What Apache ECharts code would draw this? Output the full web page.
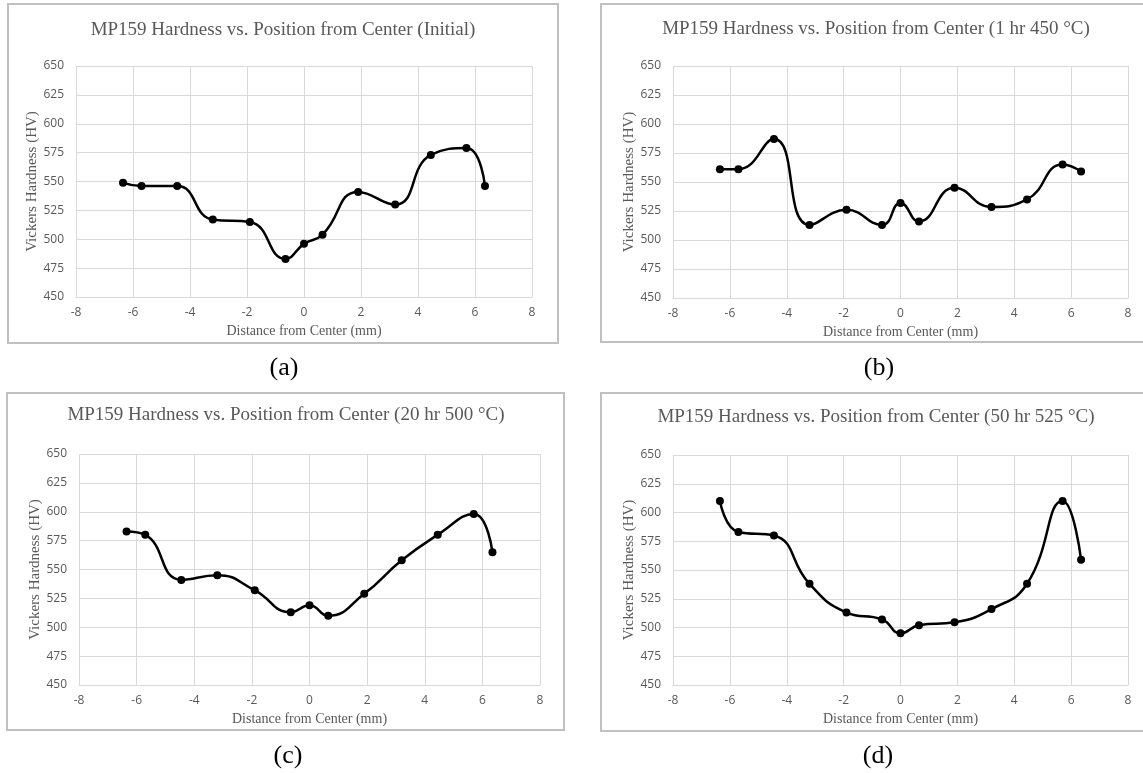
<!DOCTYPE html>
<html>
<head>
<meta charset="utf-8">
<script src="https://cdn.jsdelivr.net/npm/echarts@6/dist/echarts.min.js"></script>
<style>
html,body{margin:0;padding:0;background:#fff;}
#chart{width:1143px;height:773px;}
</style>
</head>
<body>
<div id="chart"></div>
<script>
// Positions from center (mm)
const positions = [-6.35, -5.7, -4.45, -3.2, -1.9, -0.65, 0, 0.65, 1.9, 3.2, 4.45, 5.7, 6.35];
// Vickers hardness (HV) per condition
const hvInitial = [549, 546, 546, 517, 515, 483, 496, 504, 541, 530, 573, 579, 546];
const hv1hr450 = [561, 561, 587, 513, 526, 513, 532, 516, 545, 528.5, 535, 565, 559];
const hv20hr500 = [583, 580, 541, 545, 532, 513, 519, 510, 529, 558, 580, 598, 565];
const hv50hr525 = [610, 583, 580, 538, 513, 507, 495, 502, 504.5, 516, 538, 610, 559];

const chartTitles = [
  'MP159 Hardness vs. Position from Center (Initial)',
  'MP159 Hardness vs. Position from Center (1 hr 450 °C)',
  'MP159 Hardness vs. Position from Center (20 hr 500 °C)',
  'MP159 Hardness vs. Position from Center (50 hr 525 °C)'
];
const captions = ['(a)', '(b)', '(c)', '(d)'];
const xAxisName = 'Distance from Center (mm)';
const yAxisName = 'Vickers Hardness (HV)';

const seriesData = [hvInitial, hv1hr450, hv20hr500, hv50hr525];

// Layout (pixels)
const grids = [
  {left: 76, top: 66, width: 456, height: 231},
  {left: 673, top: 66, width: 455, height: 232},
  {left: 79, top: 454, width: 461, height: 231},
  {left: 673, top: 455, width: 455, height: 230}
];
const titlePos = [[283, 30], [876, 29], [286, 415], [876, 417]];
const captionPos = [[284, 368], [879, 368], [288, 756], [878, 756]];
const frames = [
  {x: 8, y: 4, width: 550, height: 339},
  {x: 601, y: 4, width: 560, height: 338},
  {x: 7, y: 393, width: 557, height: 337},
  {x: 601, y: 393, width: 560, height: 338}
];

const gray = '#595959';
const gridColor = '#d9d9d9';

const chart = echarts.init(document.getElementById('chart'), null, {renderer: 'canvas'});

const option = {
  backgroundColor: '#ffffff',
  animation: false,
  title: [],
  grid: grids.map(g => Object.assign({containLabel: false}, g)),
  xAxis: [],
  yAxis: [],
  series: [],
  graphic: frames.map(f => ({
    type: 'rect',
    shape: f,
    style: {fill: 'none', stroke: '#c0c0c0', lineWidth: 2},
    silent: true,
    z: -1
  }))
};

for (let i = 0; i < 4; i++) {
  option.title.push({
    text: chartTitles[i],
    left: titlePos[i][0],
    top: titlePos[i][1],
    textAlign: 'center',
    textVerticalAlign: 'middle',
    padding: 0,
    textStyle: {fontFamily: 'Liberation Serif', fontSize: 19, fontWeight: 'normal', color: gray}
  });
  option.title.push({
    text: captions[i],
    left: captionPos[i][0],
    top: captionPos[i][1],
    textAlign: 'center',
    textVerticalAlign: 'middle',
    padding: 0,
    textStyle: {fontFamily: 'Liberation Serif', fontSize: 26, fontWeight: 'normal', color: '#000'}
  });
  option.xAxis.push({
    type: 'value',
    gridIndex: i,
    min: -8, max: 8, interval: 2,
    name: xAxisName,
    nameLocation: 'middle',
    nameGap: 27,
    nameTextStyle: {fontFamily: 'Liberation Serif', fontSize: 14, color: gray},
    axisLine: {show: true, onZero: false, lineStyle: {color: gridColor, width: 1}},
    axisTick: {show: false},
    axisLabel: {fontFamily: 'Open Sans', fontSize: 12, color: gray, margin: 10},
    splitLine: {show: true, lineStyle: {color: gridColor, width: 1}}
  });
  option.yAxis.push({
    type: 'value',
    gridIndex: i,
    min: 450, max: 650, interval: 25,
    name: yAxisName,
    nameLocation: 'middle',
    nameGap: 34,
    nameTextStyle: {fontFamily: 'Liberation Serif', fontSize: 15, color: gray},
    axisLine: {show: false},
    axisTick: {show: false},
    axisLabel: {fontFamily: 'Open Sans', fontSize: 12, color: gray, margin: 12},
    splitLine: {show: true, lineStyle: {color: gridColor, width: 1}}
  });
  option.series.push({
    type: 'line',
    xAxisIndex: i,
    yAxisIndex: i,
    data: positions.map((x, k) => [x, seriesData[i][k]]),
    smooth: 0.5,
    symbol: 'circle',
    symbolSize: 8,
    showAllSymbol: true,
    lineStyle: {color: '#000', width: 2.5},
    itemStyle: {color: '#000'},
    z: 3
  });
}

chart.setOption(option);
</script>
</body>
</html>
